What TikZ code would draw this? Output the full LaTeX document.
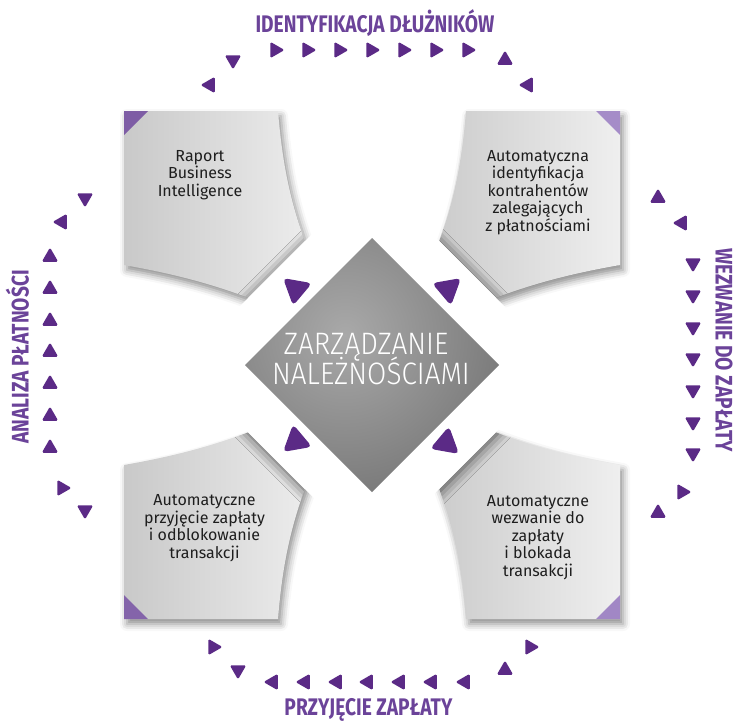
\documentclass[tikz,border=0pt]{standalone}
\usepackage{fontspec}
\setmainfont{Fira Sans}
\newfontfamily\lblfont[FakeStretch=0.8]{Fira Sans}
\newfontfamily\thinfont[FakeStretch=0.9]{Fira Sans Light}
\usetikzlibrary{calc,shadows.blur}
\definecolor{arrowc}{HTML}{5B2A86}
\definecolor{lblc}{HTML}{6B4399}
\definecolor{cardA}{HTML}{C9C9C9}
\definecolor{cardB}{HTML}{EFEFEF}
\definecolor{txtc}{HTML}{1E1E1E}
\definecolor{dmIn}{HTML}{A9A9A9}
\definecolor{dmOut}{HTML}{727272}
\definecolor{cornA}{HTML}{7E5DA5}
\definecolor{cornB}{HTML}{A58CC8}
\newcommand\cardshape[2]{%
({372-248*(#1)},{365-254*(#2)}) -- ({372-94*(#1)},{365-254*(#2)})
.. controls ({372-88*(#1)},{365-180*(#2)}) and ({372-75*(#1)},{365-140*(#2)}) .. ({372-50*(#1)},{365-80*(#2)})
-- ({372-80*(#1)},{365-50*(#2)})
.. controls ({372-140*(#1)},{365-75*(#2)}) and ({372-180*(#1)},{365-88*(#2)}) .. ({372-248*(#1)},{365-100*(#2)}) -- cycle}
\newcommand\cardcorner[3]{\fill[#3] ({372-248*(#1)},{365-254*(#2)}) -- ({372-224*(#1)},{365-254*(#2)}) -- ({372-248*(#1)},{365-230*(#2)}) -- cycle;}
\newcommand\framediamond{(372,174) -- (563,365) -- (372,556) -- (181,365) -- cycle}
\newcommand\frameshadow[2]{\begin{scope}\clip \cardshape{#1}{#2};
  \path[fill=white,blur shadow={shadow xshift=1pt,shadow yshift=-2pt,shadow blur radius=12pt,shadow opacity=70}] \framediamond;
  \end{scope}}
\newcommand\otri[3]{\fill[arrowc,rounded corners=1.6pt] ($(#1,#2)+({-(#3)}:9.5)$) -- ($(#1,#2)+({-(#3)-120}:9.5)$) -- ($(#1,#2)+({-(#3)-240}:9.5)$) -- cycle;}
\newcommand\itri[3]{\fill[arrowc,rounded corners=4.5pt] ($(#1,#2)+({-(#3)}:17)$) -- ($(#1,#2)+({-(#3)-120}:17)$) -- ($(#1,#2)+({-(#3)-240}:17)$) -- cycle;}
\begin{document}
\begin{tikzpicture}[x=1pt,y=-1pt,
  cardstyle/.style={blur shadow={shadow xshift=3pt,shadow yshift=-5pt,shadow blur radius=7pt,shadow opacity=45}},
  cardtext/.style={align=center,text=txtc,font=\fontsize{16}{17.6}\selectfont,inner sep=0pt},
  lbl/.style={text=lblc,font=\lblfont\bfseries\fontsize{24}{24}\selectfont,inner sep=0pt,anchor=base},
  dmtext/.style={text=white,font=\thinfont\fontsize{31}{31}\selectfont,inner sep=0pt,anchor=base}]
\useasboundingbox (0,0) rectangle (733,720);
% cards
\path[cardstyle,left color=cardA,right color=cardB] \cardshape{1}{1};
\path[cardstyle,left color=cardA,right color=cardB] \cardshape{-1}{1};
\path[cardstyle,left color=cardA,right color=cardB] \cardshape{1}{-1};
\path[cardstyle,left color=cardA,right color=cardB] \cardshape{-1}{-1};
\cardcorner{1}{1}{cornA}
\cardcorner{-1}{1}{cornB}
\cardcorner{1}{-1}{cornA!85!cornB}
\cardcorner{-1}{-1}{cornB!90!cornA}
% white frame diamond, its shadow falls on the cards only
\frameshadow{1}{1}
\frameshadow{-1}{1}
\frameshadow{1}{-1}
\frameshadow{-1}{-1}
\fill[white] \framediamond;
% gray diamond
\path[path picture={\shade[inner color=dmIn,outer color=dmOut] (345,335) circle (190pt);}]
  (372,238) -- (499,365) -- (372,492) -- (245,365) -- cycle;
\node[dmtext] (d1) at (366,354) {ZARZĄDZANIE};
\node[dmtext] (d2) at (371,384) {NALEŻNOŚCIAMI};
% inner triangles
\itri{296}{289}{20}
\itri{448}{289}{40}
\itri{296}{441}{100}
\itri{446}{443}{80}
% card texts
\node[cardtext] (c1) at (200,175) {Raport\\Business\\Intelligence};
\node[cardtext] (c2) at (538,192.5) {Automatyczna\\identyfikacja\\kontrahentów\\zalegających\\z płatnościami};
\node[cardtext] (c3) at (538,537.5) {Automatyczne\\wezwanie do\\zapłaty\\i blokada\\transakcji};
\node[cardtext] (c4) at (204.5,528) {Automatyczne\\przyjęcie zapłaty\\i odblokowanie\\transakcji};
% outer ring: top
\otri{210}{85}{60}
\otri{233}{60}{30}
\foreach \x in {275,307,339,371,403,435,467} {\otri{\x}{50}{0}}
\otri{505}{60}{-30}
\otri{528}{85}{-60}
% right
\otri{658}{198}{-30}
\otri{682}{223}{-60}
\foreach \y in {263,295,327,358,390,422,453} {\otri{693}{\y}{-90}}
\otri{682}{492}{-120}
\otri{658}{513}{-150}
% bottom
\otri{530}{647}{-120}
\otri{505}{670}{-150}
\foreach \x in {465,432,400,368,337,305,273} {\otri{\x}{682}{180}}
\otri{238}{670}{150}
\otri{213}{647}{120}
% left
\otri{85}{510}{150}
\otri{62}{488}{120}
\foreach \y in {448,416,384,352,321,289,257} {\otri{50}{\y}{90}}
\otri{62}{222}{60}
\otri{85}{198}{30}
% labels
\node[lbl] (l1) at (375,32) {IDENTYFIKACJA DŁUŻNIKÓW};
\node[lbl,rotate=-90] (l2) at (715.5,350) {WEZWANIE DO ZAPŁATY};
\node[lbl] (l3) at (368.5,715) {PRZYJĘCIE ZAPŁATY};
\node[lbl,rotate=90] (l4) at (28.5,357) {ANALIZA PŁATNOŚCI};
\end{tikzpicture}
\end{document}
